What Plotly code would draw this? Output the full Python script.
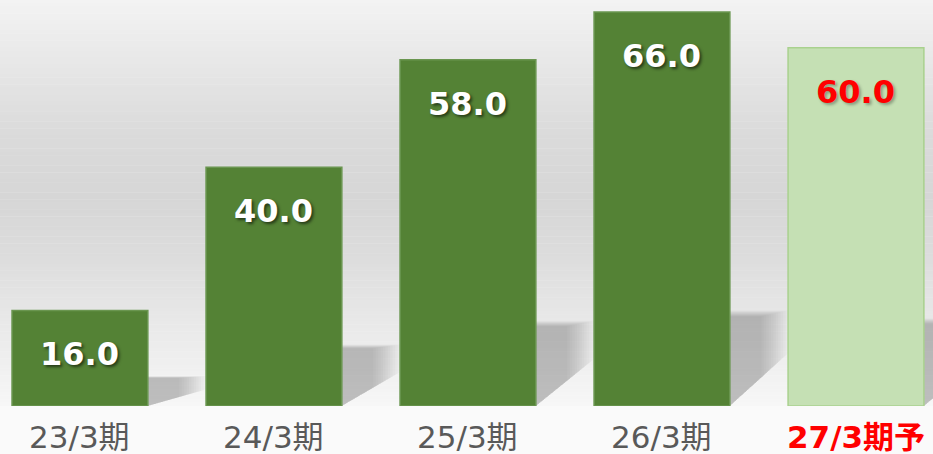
import plotly.graph_objects as go

categories = ["23/3期", "24/3期", "25/3期", "26/3期", "27/3期予"]
values = [16.0, 40.0, 58.0, 66.0, 60.0]
value_labels = ["16.0", "40.0", "58.0", "66.0", "60.0"]

W, H = 933, 454
PLOT_H = 406

bar_colors = ["#548235"] * 4 + ["#c5e0b4"]
line_colors = ["#6a9650"] * 4 + ["#a9d18e"]

fig = go.Figure()
fig.add_trace(go.Bar(
    x=list(range(len(categories))), y=values, width=0.70,
    marker=dict(color=bar_colors, line=dict(color=line_colors, width=1.5)),
    hoverinfo="skip", showlegend=False,
))

shapes = []
# background vertical gradient (pixel y from top, gray level)
stops = [(0, 243), (60, 232), (130, 219), (200, 214), (260, 221), (320, 232), (380, 242), (406, 247)]
def gray_at(py):
    for (a, ga), (b, gb) in zip(stops, stops[1:]):
        if a <= py <= b:
            t = (py - a) / (b - a)
            return ga + (gb - ga) * t
    return stops[-1][1]
N = 120
for k in range(N):
    p0 = PLOT_H * k / N
    p1 = PLOT_H * (k + 1) / N
    g = int(round(gray_at((p0 + p1) / 2)))
    shapes.append(dict(type="rect", xref="paper", yref="paper", x0=0, x1=1,
                       y0=1 - p1 / PLOT_H, y1=1 - p0 / PLOT_H + 0.001,
                       fillcolor=f"rgb({g},{g},{g})", line=dict(width=0), layer="below"))

# soft floor shadows to the right of bars
for i, v in enumerate(values):
    xr = i + 0.35
    s = 0.22 * v + 1.5
    L = 12
    for j in range(L):
        f = 1.0 - j / L * 0.5          # shrinking layers -> soft edges
        dx = 0.30 * f
        top = s * (0.86 + 0.14 * f)
        low = s * 0.55 * f
        path = f"M {xr},0 L {xr},{top} L {xr+dx},{top} L {xr+dx},{low} Z"
        shapes.append(dict(type="path", xref="x", yref="y", path=path,
                           fillcolor="rgba(0,0,0,0.019)", line=dict(width=0), layer="below"))

annotations = []
for i, (v, t) in enumerate(zip(values, value_labels)):
    col = "#ffffff" if i < 4 else "#ff0000"
    shadow = "2px 2px 3px rgba(0,0,0,0.55)" if i < 4 else "2px 2px 3px rgba(0,0,0,0.3)"
    annotations.append(dict(x=i, y=v, xref="x", yref="y", text=f"<b>{t}</b>",
                            showarrow=False, yshift=-44, yanchor="middle",
                            font=dict(family="DejaVu Sans", size=32, color=col, shadow=shadow)))

# category labels under the bars
for i, c in enumerate(categories):
    last = i == len(categories) - 1
    annotations.append(dict(x=i, y=0, xref="x", yref="paper",
                            text=f"<b>{c}</b>" if last else c,
                            showarrow=False, yshift=-31, yanchor="middle",
                            font=dict(family="DejaVu Sans, Noto Sans CJK JP", size=31,
                                      color="#ff0000" if last else "#595959")))

fig.update_layout(
    width=W, height=H,
    margin=dict(l=0, r=0, t=0, b=H - PLOT_H),
    paper_bgcolor="#fafafa", plot_bgcolor="rgba(0,0,0,0)",
    shapes=shapes, annotations=annotations,
    xaxis=dict(range=[-0.412, 4.397], showticklabels=False, showgrid=False,
               zeroline=False, showline=False, ticks="", fixedrange=True),
    yaxis=dict(range=[0, 68], visible=False, showgrid=False, zeroline=False, fixedrange=True),
)

fig.write_html("out.html", config={"displayModeBar": False},
               post_script="document.body.style.margin='0';")
